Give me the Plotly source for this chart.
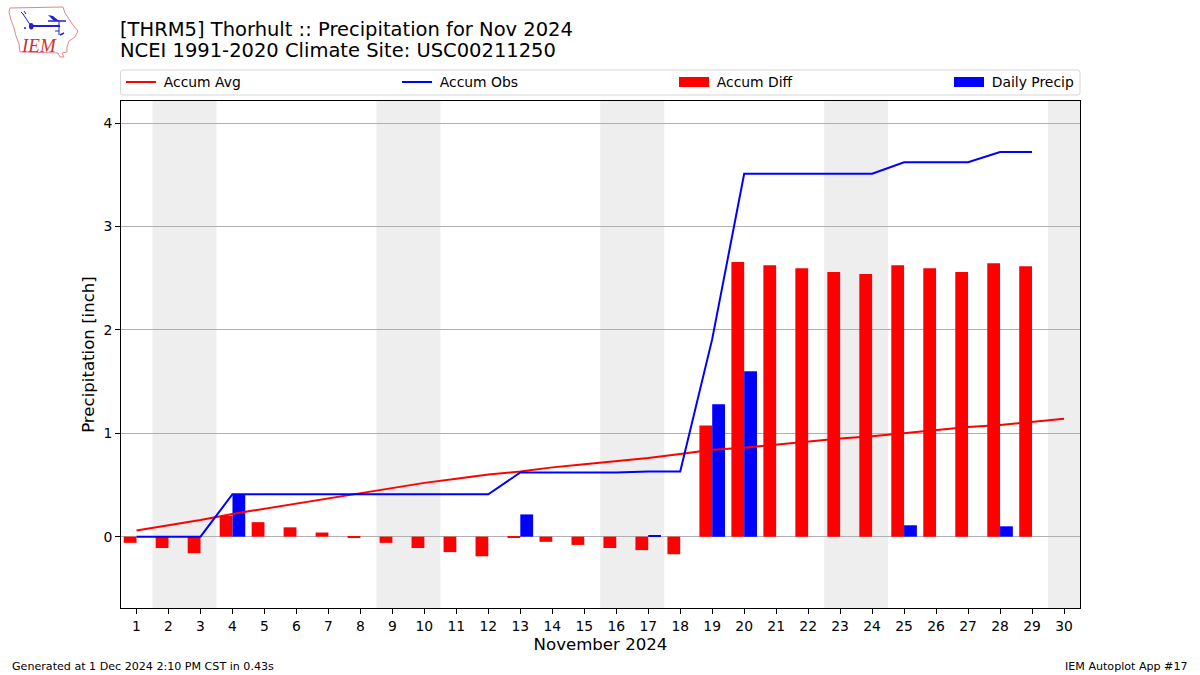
import plotly.graph_objects as go

days = list(range(1, 31))
tick_labels = [str(d) for d in days]
accum_avg = [0.06, 0.11, 0.16, 0.22, 0.27, 0.32, 0.37, 0.42, 0.47, 0.52, 0.56, 0.60, 0.63, 0.67, 0.70,
             0.73, 0.76, 0.80, 0.84, 0.86, 0.89, 0.92, 0.95, 0.97, 1.00, 1.03, 1.06, 1.08, 1.11, 1.14]
accum_obs = [0, 0, 0, 0.41, 0.41, 0.41, 0.41, 0.41, 0.41, 0.41, 0.41, 0.41, 0.62, 0.62, 0.62,
             0.62, 0.63, 0.63, 1.91, 3.51, 3.51, 3.51, 3.51, 3.51, 3.62, 3.62, 3.62, 3.72, 3.72, None]
accum_diff = [-0.06, -0.11, -0.16, 0.20, 0.14, 0.09, 0.04, -0.01, -0.06, -0.11, -0.15, -0.19, -0.01, -0.05, -0.08,
              -0.11, -0.13, -0.17, 1.075, 2.655, 2.625, 2.595, 2.56, 2.54, 2.625, 2.595, 2.56, 2.645, 2.615, None]
daily_precip = [0, 0, 0, 0.41, 0, 0, 0, 0, 0, 0, 0, 0, 0.215, 0, 0,
                0, 0.01, 0, 1.28, 1.60, 0, 0, 0, 0, 0.11, 0, 0, 0.10, 0, None]
weekends = [(1.5, 3.5), (8.5, 10.5), (15.5, 17.5), (22.5, 24.5), (29.5, 30.5)]

FONT = "DejaVu Sans"
W, H = 1200, 675
L, R, T, B = 121, 1080, 101, 608


def px(x):
    return (x - L) / (R - L)


def py(y):
    return (B - y) / (B - T)


fig = go.Figure()
fig.add_bar(x=days, y=accum_diff, width=0.4, offset=-0.4, marker=dict(color="#ff0000", line_width=0), showlegend=False)
fig.add_bar(x=days, y=daily_precip, width=0.4, offset=0, marker=dict(color="#0000ff", line_width=0), showlegend=False)
fig.add_scatter(x=days, y=accum_avg, mode="lines", line=dict(color="#ff0000", width=2), name="\u2009Accum Avg", legend="legend")
fig.add_scatter(x=days, y=accum_obs, mode="lines", line=dict(color="#0000ff", width=2), name="\u2009Accum Obs", legend="legend2")
fig.add_scatter(x=[None], y=[None], mode="lines", line=dict(color="#ff0000", width=10), name="\u2009Accum Diff", legend="legend3")
fig.add_scatter(x=[None], y=[None], mode="lines", line=dict(color="#0000ff", width=10), name="\u2009Daily Precip", legend="legend4")

shapes = []
for a, b in weekends:
    shapes.append(dict(type="rect", xref="x", yref="paper", x0=a, x1=b, y0=0, y1=1,
                       fillcolor="#eeeeee", line_width=0, layer="below"))


def path(points):
    return "M" + " L".join(f"{px(a):.5f},{py(b):.5f}" for a, b in points)


# legend frame with small rounded corners
fx0, fx1, fy0, fy1, r = 120.5, 1080, 70, 95, 2.5
frame = (f"M{px(fx0 + r):.5f},{py(fy0):.5f} L{px(fx1 - r):.5f},{py(fy0):.5f} "
         f"Q{px(fx1):.5f},{py(fy0):.5f} {px(fx1):.5f},{py(fy0 + r):.5f} L{px(fx1):.5f},{py(fy1 - r):.5f} "
         f"Q{px(fx1):.5f},{py(fy1):.5f} {px(fx1 - r):.5f},{py(fy1):.5f} L{px(fx0 + r):.5f},{py(fy1):.5f} "
         f"Q{px(fx0):.5f},{py(fy1):.5f} {px(fx0):.5f},{py(fy1 - r):.5f} L{px(fx0):.5f},{py(fy0 + r):.5f} "
         f"Q{px(fx0):.5f},{py(fy0):.5f} {px(fx0 + r):.5f},{py(fy0):.5f} Z")
shapes.append(dict(type="path", xref="paper", yref="paper", path=frame,
                   fillcolor="white", line=dict(color="#d5d5d5", width=1), layer="below"))

BLUE = "#2020d0"
iowa = [(10, 8), (63, 7), (65, 13), (69, 19), (73, 25), (78, 31), (75, 37), (69, 41), (67, 47), (67, 52),
        (62, 53), (64, 57), (60, 57), (58, 53), (20, 52), (19, 44), (16, 36), (14, 28), (11, 20), (9, 12)]
shapes.append(dict(type="path", xref="paper", yref="paper", path=path(iowa) + " Z",
                   line=dict(color="#e08888", width=1), fillcolor="rgba(0,0,0,0)"))
for seg, w in [([(31, 26), (60, 26)], 2), ([(59, 21), (59, 35)], 1), ([(48, 21), (66, 21)], 1.5),
               ([(31, 26), (23, 14)], 1), ([(21, 12), (24, 15)], 1), ([(24, 11), (26, 14)], 1),
               ([(55, 31), (59, 31)], 1), ([(60, 35), (64, 33)], 1.5), ([(24, 28), (26, 28)], 1.5)]:
    shapes.append(dict(type="path", xref="paper", yref="paper", path=path(seg),
                       line=dict(color=BLUE, width=w)))
shapes.append(dict(type="path", xref="paper", yref="paper", path=path([(48, 15), (53, 16), (59, 21), (54, 21)]) + " Z",
                   line_width=0, fillcolor=BLUE))
shapes.append(dict(type="circle", xref="paper", yref="paper", x0=px(29), x1=px(33.5), y0=py(29.5), y1=py(23),
                   line_width=0, fillcolor=BLUE))

annotations = [
    dict(text="NCEI 1991-2020 Climate Site: USC00211250", x=px(120), y=py(50.5), xref="paper", yref="paper",
         xanchor="left", yanchor="middle", showarrow=False, xshift=-2,
         font=dict(family=FONT, size=19.5, color="black")),
    dict(text="<i>IEM</i>", x=px(19), y=py(45.5), xref="paper", yref="paper", xanchor="left", yanchor="middle",
         showarrow=False, font=dict(family="Liberation Serif", size=19, color="#d03030")),
    dict(text="Generated at 1 Dec 2024 2:10 PM CST in 0.43s", x=px(12), y=py(666.5), xref="paper", yref="paper",
         xanchor="left", yanchor="middle", showarrow=False, xshift=-2, font=dict(family=FONT, size=11.1, color="black")),
    dict(text="IEM Autoplot App #17", x=px(1188), y=py(666.5), xref="paper", yref="paper",
         xanchor="right", yanchor="middle", showarrow=False, xshift=2, font=dict(family=FONT, size=11.1, color="black")),
]


def legend_at(x_pixel):
    return dict(x=px(x_pixel), y=py(82.5), xanchor="left", yanchor="middle", bgcolor="rgba(0,0,0,0)",
                borderwidth=0, font=dict(family=FONT, size=13.9, color="black"), itemwidth=30,
                tracegroupgap=0, itemclick=False, itemdoubleclick=False)


fig.update_layout(
    width=W, height=H, autosize=False,
    margin=dict(l=L, r=W - R, t=T, b=H - B, pad=0),
    paper_bgcolor="white", plot_bgcolor="white", barmode="overlay",
    font=dict(family=FONT, size=13.9, color="black"),
    title=dict(text="[THRM5] Thorhult :: Precipitation for Nov 2024",
               x=120 / W, xref="container", xanchor="left", y=1 - 29.5 / H, yanchor="middle",
               font=dict(family=FONT, size=19.5, color="black")),
    shapes=shapes, annotations=annotations,
    legend=legend_at(121), legend2=legend_at(397), legend3=legend_at(674), legend4=legend_at(949),
    xaxis=dict(range=[0.515, 30.5], tickmode="array", tickvals=days, ticktext=tick_labels,
               title=dict(text="November 2024", font=dict(family=FONT, size=16.6), standoff=5),
               showgrid=False, zeroline=False, showline=True, linecolor="black", linewidth=1, mirror=True,
               ticks="outside", ticklen=5, tickwidth=1, tickcolor="black", tickfont=dict(family=FONT, size=13.9)),
    yaxis=dict(range=[-0.69, 4.213], tickmode="array", tickvals=[0, 1, 2, 3, 4], ticktext=["0", "1", "2", "3", "4"],
               title=dict(text="Precipitation [inch]", font=dict(family=FONT, size=16.6), standoff=4),
               showgrid=True, gridcolor="#b0b0b0", gridwidth=1, zeroline=False, showline=True, linecolor="black",
               linewidth=1, mirror=True, ticks="outside", ticklen=5, tickwidth=1, tickcolor="black",
               tickfont=dict(family=FONT, size=13.9)),
)
fig.write_html("out.html", config=dict(displayModeBar=False),
               post_script="document.body.style.margin='0';document.body.style.overflow='hidden';")
